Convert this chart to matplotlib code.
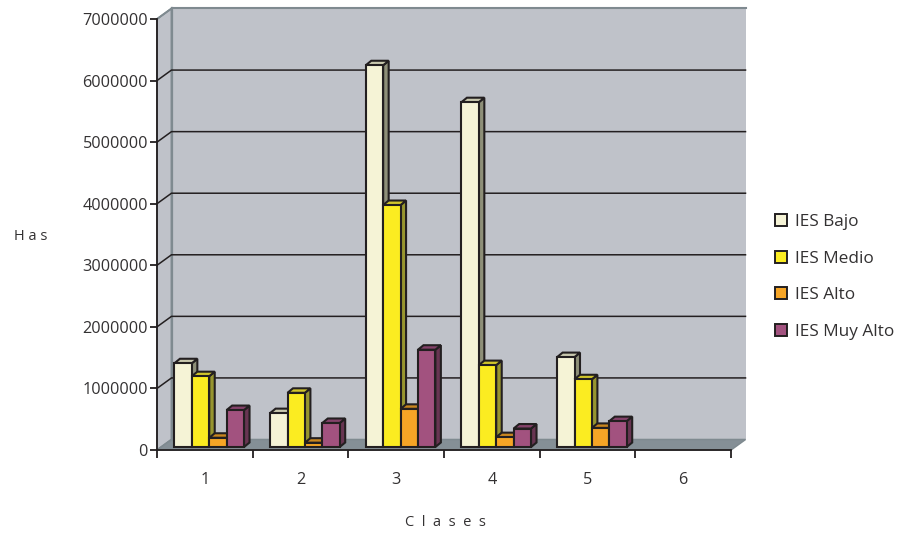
import matplotlib
matplotlib.use('Agg')
import matplotlib.pyplot as plt
from matplotlib.patches import Patch, Polygon

clases = ['1', '2', '3', '4', '5', '6']
ies_bajo = [1360000, 550000, 6200000, 5600000, 1460000, 0]
ies_medio = [1150000, 880000, 3930000, 1330000, 1100000, 0]
ies_alto = [150000, 70000, 620000, 160000, 310000, 0]
ies_muy_alto = [600000, 390000, 1580000, 300000, 420000, 0]
y_ticks = [0, 1000000, 2000000, 3000000, 4000000, 5000000, 6000000, 7000000]

W, H = 899, 533
L, R, B, T = 157, 731, 450, 19
YMAX = 7000000

WALL = '#bfc2c9'
EDGE = '#7f8a90'
FLOOR = '#858f96'
INK = '#231f20'
TEXT = '#333132'

plt.rcParams['font.family'] = ['Open Sans', 'DejaVu Sans']

fig = plt.figure(figsize=(W / 100, H / 100), dpi=100)
ax = fig.add_axes([L / W, 1 - B / H, (R - L) / W, (B - T) / H])
ax.set_xlim(0, len(clases))
ax.set_ylim(0, YMAX)
ax.patch.set_visible(False)

# pixel to data unit factors
px_x = len(clases) / (R - L)
px_y = YMAX / (B - T)
depth_x = 14.5 * px_x
depth_y = 10.5 * px_y
n = len(clases)


def poly(pts, fc, ec=INK, lw=1.5, z=2):
  ax.add_patch(Polygon(pts, closed=True, facecolor=fc, edgecolor=ec, linewidth=lw,
                       joinstyle='miter', clip_on=False, zorder=z))


# walls and floor of the 3d box
poly([(0, 0), (depth_x, depth_y), (depth_x, YMAX + depth_y), (0, YMAX)], WALL, EDGE, 1.3, 1)
poly([(depth_x, depth_y), (n + depth_x, depth_y), (n + depth_x, YMAX + depth_y), (depth_x, YMAX + depth_y)],
     WALL, 'none', 0, 1)
ax.plot([depth_x, n + depth_x], [YMAX + depth_y] * 2, color=EDGE, lw=1.5, clip_on=False, zorder=1.2)
poly([(0, 0), (n, 0), (n + depth_x, depth_y), (depth_x, depth_y)], FLOOR, EDGE, 1.1, 1.1)
ax.plot([depth_x, depth_x], [depth_y, YMAX + depth_y], color=EDGE, lw=1.6, clip_on=False, zorder=1.2)

# grid lines run along the left wall and across the back wall
for v in y_ticks[1:-1]:
  ax.plot([0, depth_x, n + depth_x], [v, v + depth_y, v + depth_y], color=INK, lw=1.1,
          clip_on=False, solid_joinstyle='miter', zorder=1.5)
ax.plot([0, depth_x], [YMAX, YMAX + depth_y], color=EDGE, lw=1.3, clip_on=False, zorder=1.5)

series = [
  ('IES Bajo', ies_bajo, '#f5f3d6', '#c9c8ae', '#8e8f78'),
  ('IES Medio', ies_medio, '#fbec21', '#d0c52b', '#97952f'),
  ('IES Alto', ies_alto, '#f6a526', '#c9861f', '#94681f'),
  ('IES Muy Alto', ies_muy_alto, '#a2527f', '#84426a', '#683552'),
]

bar_w = 17.4 * px_x
bar_dx = 5.5 * px_x
bar_dy = 4.5 * px_y
base_x = 4.4 * px_x
base_y = 3 * px_y
start = (1 - 4 * bar_w) / 2

for c in range(len(clases)):
  for s, (name, values, front, top, side) in enumerate(series):
    if values[c] <= 0:
      continue
    x0 = c + start + s * bar_w + base_x
    x1 = x0 + bar_w
    y0 = base_y
    y1 = base_y + values[c]
    z = 3 + c + s * 0.01
    poly([(x1, y0), (x1 + bar_dx, y0 + bar_dy), (x1 + bar_dx, y1 + bar_dy), (x1, y1)], side, z=z)
    poly([(x0, y1), (x1, y1), (x1 + bar_dx, y1 + bar_dy), (x0 + bar_dx, y1 + bar_dy)], top, z=z)
    poly([(x0, y0), (x1, y0), (x1, y1), (x0, y1)], front, z=z + 0.001)

for side in ['top', 'right']:
  ax.spines[side].set_visible(False)
for side in ['left', 'bottom']:
  ax.spines[side].set_color(INK)
  ax.spines[side].set_linewidth(1.3)
  ax.spines[side].set_zorder(20)

ax.set_yticks(y_ticks)
ax.set_yticklabels([str(v) for v in y_ticks])
ax.set_xticks(range(len(clases) + 1))
ax.set_xticklabels([])
ax.set_xticks([i + 0.5 for i in range(len(clases))], labels=clases, minor=True)
ax.tick_params(axis='x', which='major', length=5.8, width=1.3, color=INK)
ax.tick_params(axis='x', which='minor', length=0, pad=15.5, labelsize=11.7, labelcolor=TEXT)
ax.tick_params(axis='y', length=5, width=1.3, color=INK, pad=1.5, labelsize=11.7, labelcolor=TEXT)

fig.text(31 / W, 1 - 237 / H, 'H a s', ha='center', va='center', fontsize=10.5, color=TEXT)
fig.text(445 / W, 1 - 522 / H, 'C  l  a  s  e  s', ha='center', va='center', fontsize=10.5, color=TEXT)

handles = [Patch(facecolor=f, edgecolor=INK, linewidth=1.4, label=name) for name, _, f, _, _ in series]
fig.legend(handles=handles, loc='center left', bbox_to_anchor=(775 / W, 1 - 277 / H), frameon=False,
           fontsize=12.4, labelcolor=TEXT, handlelength=0.7, handleheight=0.7, handletextpad=0.47,
           labelspacing=1.2, borderaxespad=0, borderpad=0)

fig.savefig('out.png', dpi=100)
